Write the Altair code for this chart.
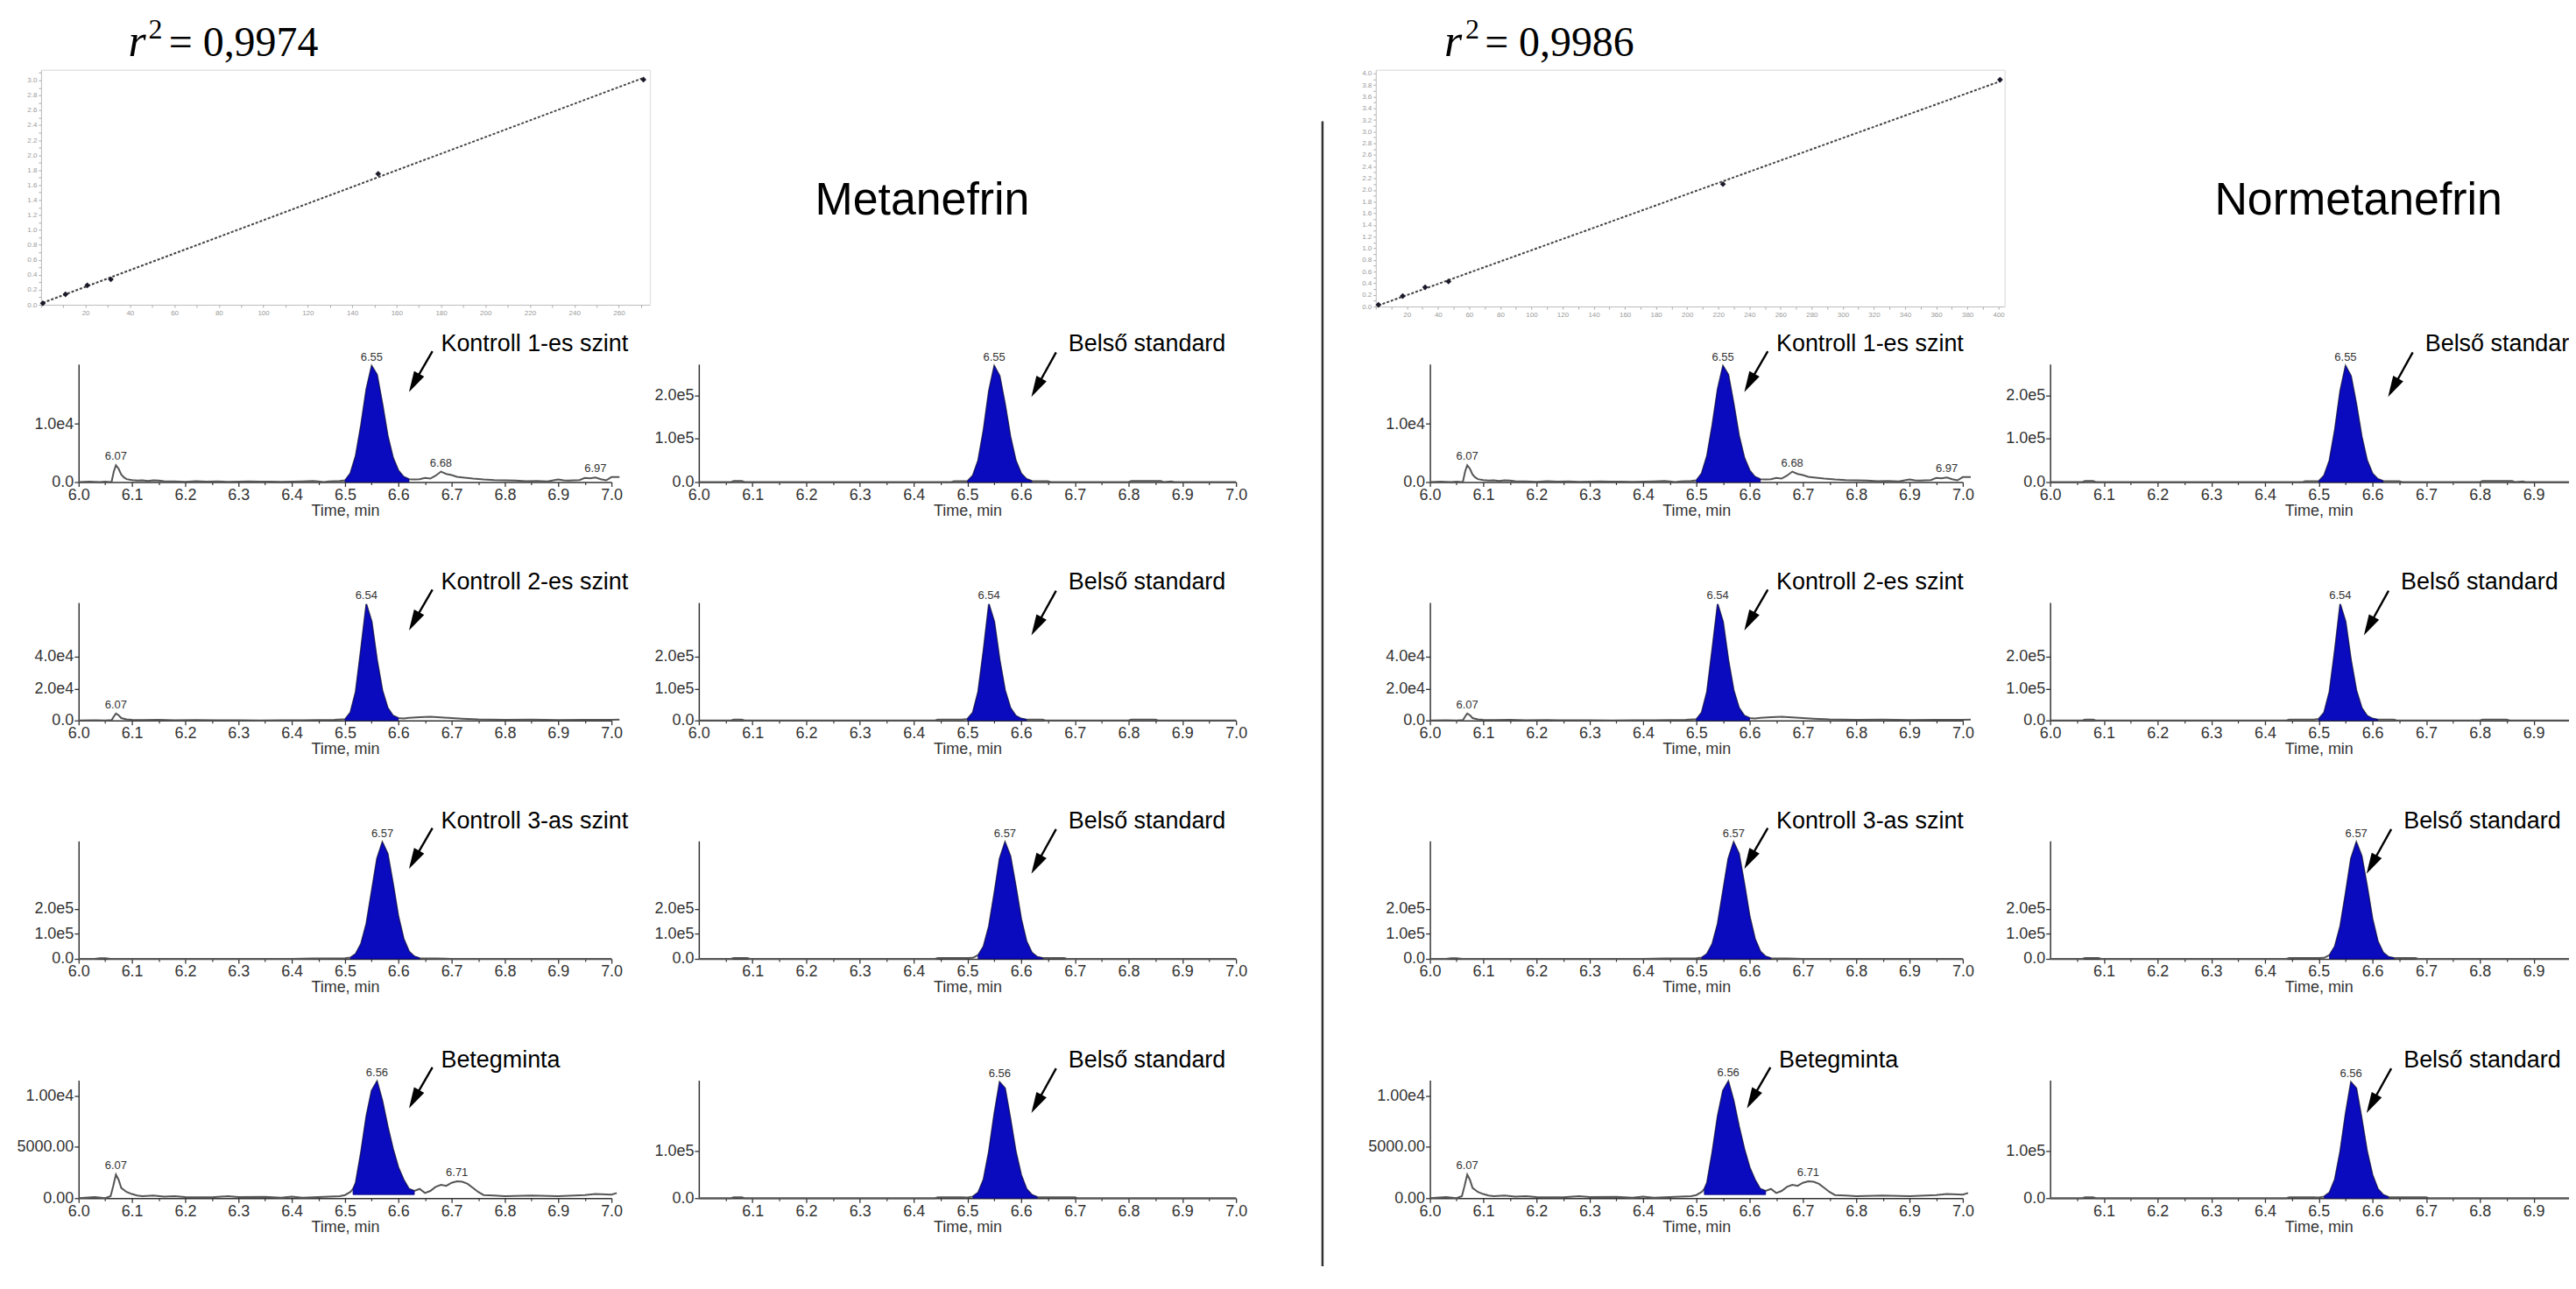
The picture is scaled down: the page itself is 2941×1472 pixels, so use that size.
import altair as alt
import pandas as pd

# ---------------- values ----------------
# calibration curves: concentration vs. area ratio
met_cal_conc = [0.8, 11.0, 20.8, 31.4, 151.7, 271.1]
met_cal_ratio = [0.02, 0.14, 0.26, 0.34, 1.75, 3.01]
nor_cal_conc = [1.7, 17.3, 31.7, 46.7, 223.0, 401.0]
nor_cal_ratio = [0.03, 0.18, 0.33, 0.43, 2.10, 3.89]
met_cal_xticks = list(range(0, 280, 10))
met_cal_yticks = [round(i * 0.1, 1) for i in range(0, 32)]
nor_cal_xticks = list(range(0, 410, 10))
nor_cal_yticks = [round(i * 0.1, 1) for i in range(0, 41)]
r2_texts = ["= 0,9974", "= 0,9986"]
titles = ["Metanefrin", "Normetanefrin"]

time_ticks = [6.0, 6.1, 6.2, 6.3, 6.4, 6.5, 6.6, 6.7, 6.8, 6.9, 7.0]
time_ticks_no0 = [6.1, 6.2, 6.3, 6.4, 6.5, 6.6, 6.7, 6.8, 6.9, 7.0]
time_minor = [6.05, 6.15, 6.25, 6.35, 6.45, 6.55, 6.65, 6.75, 6.85, 6.95]

# --- Kontroll 1-es szint ---
A1_t = [6.00, 6.02, 6.04, 6.05, 6.06, 6.062, 6.066, 6.07, 6.075, 6.08, 6.085, 6.09, 6.10, 6.11, 6.12,
        6.13, 6.14, 6.15, 6.16, 6.18, 6.20, 6.22, 6.24, 6.26, 6.28, 6.30, 6.32, 6.34, 6.36, 6.38,
        6.40, 6.42, 6.44, 6.45, 6.46, 6.47, 6.48, 6.49, 6.50, 6.51, 6.52, 6.53, 6.54, 6.55, 6.56,
        6.57, 6.58, 6.59, 6.60, 6.61, 6.62, 6.63, 6.64, 6.65, 6.66, 6.67, 6.68, 6.69, 6.70, 6.71,
        6.72, 6.74, 6.76, 6.78, 6.80, 6.82, 6.84, 6.86, 6.88, 6.90, 6.91, 6.92, 6.94, 6.95, 6.96,
        6.97, 6.98, 6.99, 7.00, 7.015]
A1_y = [0, 60, 0, 80, 0, 100, 1800, 2900, 2300, 1300, 800, 500, 350, 250, 300,
        200, 300, 250, 150, 100, 50, 150, 80, 100, 50, 80, 120, 60, 80, 50,
        60, 100, 180, 100, 0, 120, 150, 200, 300, 1500, 4500, 9800, 16000, 20000, 18500,
        13500, 8000, 4200, 2000, 900, 500, 450, 500, 700, 600, 1100, 1800, 1400, 1200, 900,
        800, 600, 450, 350, 300, 250, 150, 200, 100, 450, 300, 250, 350, 700, 650,
        800, 500, 300, 850, 850]
A1_fill = [6.50, 6.62]
A1_base = 0
A1_ymax = 20300
A1_yvals = [0, 10000]
A1_ylabs = ["0.0", "1.0e4"]
A1_pk_t = [6.07, 6.55, 6.68, 6.97]
A1_pk_y = [2900, 20000, 1800, 800]
A1_pk_lab = ["6.07", "6.55", "6.68", "6.97"]
A1_note = "Kontroll 1-es szint"

# --- Kontroll 2-es szint ---
A2_t = [6.00, 6.03, 6.05, 6.062, 6.066, 6.07, 6.075, 6.08, 6.09, 6.10, 6.12, 6.15, 6.18, 6.22, 6.26,
        6.30, 6.34, 6.38, 6.42, 6.45, 6.48, 6.50, 6.51, 6.52, 6.53, 6.54, 6.55, 6.56, 6.57, 6.58,
        6.59, 6.60, 6.61, 6.62, 6.64, 6.66, 6.68, 6.70, 6.72, 6.75, 6.80, 6.85, 6.90, 6.95, 7.00, 7.015]
A2_y = [0, 150, 0, 300, 2500, 4300, 3300, 1500, 700, 400, 250, 350, 150, 250, 100,
        150, 50, 150, 100, 250, 350, 800, 5000, 18000, 45000, 73000, 62000, 38000, 19000, 8000,
        3000, 1500, 1200, 1600, 2000, 2300, 1900, 1500, 1100, 700, 450, 550, 300, 450, 350, 500]
A2_fill = [6.50, 6.60]
A2_base = 0
A2_ymax = 74000
A2_yvals = [0, 20000, 40000]
A2_ylabs = ["0.0", "2.0e4", "4.0e4"]
A2_pk_t = [6.07, 6.54]
A2_pk_y = [4300, 73000]
A2_pk_lab = ["6.07", "6.54"]
A2_note = "Kontroll 2-es szint"

# --- Kontroll 3-as szint ---
A3_t = [6.00, 6.03, 6.04, 6.05, 6.06, 6.10, 6.20, 6.30, 6.40, 6.44, 6.46, 6.50, 6.51, 6.52, 6.53,
        6.54, 6.55, 6.56, 6.57, 6.58, 6.59, 6.60, 6.61, 6.62, 6.63, 6.64, 6.65, 6.67, 6.70, 6.80,
        6.90, 7.00]
A3_y = [0, 0, 2500, 2500, 0, 0, 0, 0, 0, 2000, 2000, 2500, 5000, 20000, 60000,
        140000, 270000, 400000, 465000, 420000, 300000, 170000, 80000, 30000, 10000, 3000, 1800, 1500, 0, 0,
        0, 0]
A3_fill = [6.51, 6.64]
A3_base = 0
A3_ymax = 470000
A3_yvals = [0, 100000, 200000]
A3_ylabs = ["0.0", "1.0e5", "2.0e5"]
A3_pk_t = [6.57]
A3_pk_y = [465000]
A3_pk_lab = ["6.57"]
A3_note = "Kontroll 3-as szint"

# --- Betegminta ---
A4_t = [6.00, 6.03, 6.05, 6.06, 6.065, 6.07, 6.075, 6.08, 6.09, 6.10, 6.11, 6.12, 6.14, 6.16, 6.18,
        6.20, 6.25, 6.28, 6.30, 6.35, 6.38, 6.40, 6.42, 6.45, 6.47, 6.49, 6.50, 6.51, 6.515, 6.52,
        6.53, 6.54, 6.55, 6.56, 6.57, 6.58, 6.59, 6.60, 6.61, 6.62, 6.63, 6.64, 6.65, 6.66, 6.67,
        6.68, 6.69, 6.70, 6.71, 6.72, 6.73, 6.74, 6.75, 6.76, 6.78, 6.80, 6.85, 6.90, 6.95, 6.97,
        7.00, 7.01]
A4_y = [0, 100, 0, 200, 1200, 2300, 1800, 1000, 600, 400, 250, 200, 250, 150, 200,
        100, 80, 200, 100, 120, 50, 150, 50, 100, 150, 200, 300, 600, 900, 1500,
        4500, 8000, 10500, 11400, 9500, 7000, 4800, 3000, 1800, 900, 700, 900, 500, 700, 1100,
        1300, 1200, 1500, 1650, 1600, 1400, 1000, 600, 300, 250, 200, 250, 200, 300, 400,
        350, 500]
A4_fill = [6.515, 6.63]
A4_base = 350
A4_ymax = 11500
A4_yvals = [0, 5000, 10000]
A4_ylabs = ["0.00", "5000.00", "1.00e4"]
A4_pk_t = [6.07, 6.56, 6.71]
A4_pk_y = [2300, 11400, 1650]
A4_pk_lab = ["6.07", "6.56", "6.71"]
A4_note = "Betegminta"

# --- Belső standard (internal standard) traces ---
B1_t = [6.00, 6.06, 6.065, 6.08, 6.085, 6.20, 6.40, 6.47, 6.475, 6.50, 6.51, 6.52, 6.53, 6.54, 6.55,
        6.56, 6.57, 6.58, 6.59, 6.60, 6.61, 6.62, 6.63, 6.65, 6.655, 6.80, 6.805, 6.86, 6.865, 6.88,
        6.885, 7.00]
B1_y = [0, 0, 2500, 2500, 0, 0, 0, 0, 2000, 2000, 15000, 50000, 120000, 210000, 268000,
        245000, 180000, 105000, 50000, 20000, 7000, 2500, 2000, 2000, 0, 0, 2500, 2500, 0, 1500,
        0, 0]
B1_fill = [6.50, 6.62]
B1_ymax = 272000
B1_yvals = [0, 100000, 200000]
B1_ylabs = ["0.0", "1.0e5", "2.0e5"]
B1_pk_t = [6.55]
B1_pk_y = [268000]
B1_pk_lab = ["6.55"]

B2_t = [6.00, 6.06, 6.065, 6.08, 6.085, 6.44, 6.445, 6.48, 6.49, 6.50, 6.51, 6.52, 6.53, 6.54, 6.55,
        6.56, 6.57, 6.58, 6.59, 6.60, 6.61, 6.62, 6.64, 6.645, 6.80, 6.805, 6.85, 6.855, 7.00]
B2_y = [0, 0, 3000, 3000, 0, 0, 3000, 3000, 2500, 5000, 25000, 90000, 220000, 365000, 310000,
        190000, 95000, 40000, 15000, 6000, 3000, 2500, 2500, 0, 0, 3000, 3000, 0, 0]
B2_fill = [6.50, 6.61]
B2_ymax = 370000
B2_yvals = [0, 100000, 200000]
B2_ylabs = ["0.0", "1.0e5", "2.0e5"]
B2_pk_t = [6.54]
B2_pk_y = [365000]
B2_pk_lab = ["6.54"]

B3_t = [6.00, 6.06, 6.065, 6.09, 6.095, 6.44, 6.445, 6.50, 6.51, 6.52, 6.53, 6.54, 6.55, 6.56, 6.57,
        6.58, 6.59, 6.60, 6.61, 6.62, 6.63, 6.64, 6.65, 6.68, 6.685, 7.00]
B3_y = [0, 0, 3500, 3500, 0, 0, 3500, 3500, 4000, 15000, 50000, 130000, 260000, 400000, 465000,
        410000, 290000, 160000, 70000, 25000, 8000, 3500, 3500, 3500, 0, 0]
B3_fill = [6.52, 6.64]
B3_ymax = 470000
B3_yvals = [0, 100000, 200000]
B3_ylabs = ["0.0", "1.0e5", "2.0e5"]
B3_pk_t = [6.57]
B3_pk_y = [465000]
B3_pk_lab = ["6.57"]

B4_t = [6.00, 6.06, 6.065, 6.08, 6.085, 6.44, 6.445, 6.49, 6.50, 6.51, 6.52, 6.53, 6.54, 6.55, 6.56,
        6.57, 6.58, 6.59, 6.60, 6.61, 6.62, 6.63, 6.64, 6.70, 6.705, 7.00]
B4_y = [0, 0, 2000, 2000, 0, 0, 2000, 2000, 1500, 3500, 12000, 40000, 100000, 180000, 248000,
        235000, 170000, 100000, 50000, 20000, 7000, 2500, 2000, 2000, 0, 0]
B4_fill = [6.51, 6.63]
B4_ymax = 252000
B4_yvals = [0, 100000]
B4_ylabs = ["0.0", "1.0e5"]
B4_pk_t = [6.56]
B4_pk_y = [248000]
B4_pk_lab = ["6.56"]
B_note = "Belső standard"

# ---------------- layout / style ----------------
W, H = 2933, 1440
OX, OY = 8, 8
PH = 135
COLS = {"A": (90, 700), "B": (800, 1415), "C": (1637, 2247), "D": (2347, 2962)}
BASES = [550, 823, 1096, 1370]
NOTE_POS = {
    "A": dict(label=(6.68, 1.11), start=(6.664, 1.11), head=(6.6295, 0.84)),
    "B": dict(label=(6.688, 1.11), start=(6.665, 1.10), head=(6.6285, 0.80)),
}
C_shift = [-0.03, -0.03, -0.03, -0.025]
D_shift = [0.01, -0.035, -0.03, -0.03]
LBL_FONT = "'Liberation Sans', Arial, sans-serif"
SERIF = "'Liberation Serif', 'DejaVu Serif', serif"
BLUE = "#0A0ABE"
ARROW = "M0,-1L0.55,1L-0.55,1Z"

AX = dict(labelFont=LBL_FONT, labelFontSize=18, labelColor="#333", tickColor="#333",
          domainColor="#333", domainWidth=1.5, tickWidth=1.3, tickSize=5, grid=False,
          labelFlush=False, labelOverlap=False, labelPadding=1)
CAX = dict(labelFont="Liberation Sans", labelFontSize=8, labelColor="#999", tickColor="#aaa",
           domainColor="#bbb", domainWidth=1, tickSize=3, grid=False, labelFlush=False,
           labelOverlap=False, labelPadding=2, title=None)


def yexpr(vals, labs):
    parts = [f"datum.value == {v} ? '{l}'" for v, l in zip(vals, labs)]
    return " : ".join(parts) + " : ''"


def chrom_panel(tt, yy, fill, base_val, ymax, yvals, ylabs, pk_t, pk_y, pk_lab, note,
                col, row, xvals, kind, shift=0.0):
    assert len(tt) == len(yy)
    x0, x1 = COLS[col]
    base = BASES[row]
    xsc = alt.Scale(domain=[6.0, 7.0], range=[x0 - OX, x1 - OX], nice=False, zero=False)
    ysc = alt.Scale(domain=[0, ymax], range=[base - OY, base - OY - PH], nice=False, zero=False)
    rsc = alt.Scale(domain=[0, 1], range=[base - OY, base - OY - PH], nice=False, zero=False)
    df = pd.DataFrame({"t": tt, "y": yy})
    xaxis = alt.Axis(orient="bottom", offset=(base - OY) - H, values=xvals, format=".1f",
                     title="Time, min", titleFont=LBL_FONT, titleFontSize=18,
                     titleFontWeight="normal", titleColor="#333", titlePadding=0, **AX)
    yaxis = alt.Axis(orient="left", offset=-(x0 - OX), values=yvals,
                     labelExpr=yexpr(yvals, ylabs), title=None, **AX)
    minor = alt.Axis(orient="bottom", offset=(base - OY) - H,
                     values=[v for v in time_minor if v < xvals[-1]],
                     labels=False, domain=False, tickSize=3, tickColor="#333", tickWidth=1.2,
                     grid=False, title=None)
    layers = []
    layers.append(alt.Chart(df).mark_line(color="#555", strokeWidth=2).encode(
        x=alt.X("t:Q", scale=xsc, axis=xaxis), y=alt.Y("y:Q", scale=ysc, axis=yaxis)))
    layers.append(alt.Chart(df).transform_filter(
        alt.FieldRangePredicate(field="t", range=fill)).mark_area(
        color=BLUE, stroke="#06067A", strokeWidth=0.8).encode(
        x=alt.X("t:Q", scale=xsc, axis=None), y=alt.Y("y:Q", scale=ysc, axis=None),
        y2=alt.datum(base_val)))
    pk = pd.DataFrame({"t": pk_t, "y": pk_y, "lab": pk_lab})
    layers.append(alt.Chart(pk).mark_text(baseline="bottom", dy=-3, font=LBL_FONT,
                                          fontSize=13, color="#333").encode(
        x=alt.X("t:Q", scale=xsc, axis=minor), y=alt.Y("y:Q", scale=ysc, axis=None),
        text="lab:N"))
    pos = NOTE_POS[kind]
    nt = pd.DataFrame({"t": [pos["label"][0] + shift], "r": [pos["label"][1]], "txt": [note]})
    layers.append(alt.Chart(nt).mark_text(align="left", baseline="alphabetic", font=LBL_FONT,
                                          fontSize=27, color="black").encode(
        x=alt.X("t:Q", scale=xsc, axis=None), y=alt.Y("r:Q", scale=rsc, axis=None),
        text="txt:N"))
    ar = pd.DataFrame({"t0": [pos["start"][0] + shift], "r0": [pos["start"][1]],
                       "t1": [pos["head"][0] + shift], "r1": [pos["head"][1]]})
    layers.append(alt.Chart(ar).mark_rule(color="black", strokeWidth=2.4).encode(
        x=alt.X("t0:Q", scale=xsc, axis=None), y=alt.Y("r0:Q", scale=rsc, axis=None),
        x2="t1:Q", y2="r1:Q"))
    layers.append(alt.Chart(ar).mark_point(shape=ARROW, filled=True, size=576, angle=209,
                                           color="black", opacity=1).encode(
        x=alt.X("t1:Q", scale=xsc, axis=None), y=alt.Y("r1:Q", scale=rsc, axis=None)))
    return layers, xsc, rsc


def calib_panel(conc, ratio, xmax, ymax, x0, x1, ybot, ytop, xticks, yticks, r2txt,
                rpos, sup_pos, eq_pos):
    xsc = alt.Scale(domain=[0, xmax], range=[x0 - OX, x1 - OX], nice=False, zero=False)
    ysc = alt.Scale(domain=[0, ymax], range=[ybot - OY, ytop - OY], nice=False, zero=False)
    df = pd.DataFrame({"conc": conc, "ratio": ratio})
    xaxis = alt.Axis(orient="bottom", offset=(ybot - OY) - H, values=xticks,
                     labelExpr="datum.value > 0 && datum.value % 20 == 0 ? datum.value : ''", **CAX)
    yaxis = alt.Axis(orient="left", offset=-(x0 - OX), values=yticks,
                     labelExpr="round(datum.value * 10) % 2 == 0 ? format(datum.value, '.1f') : ''",
                     **CAX)
    topax = alt.Axis(orient="top", offset=-(ytop - OY), ticks=False, labels=False, grid=False,
                     domainColor="#e4e4e4", domainWidth=1.5, title=None)
    rightax = alt.Axis(orient="right", offset=(x1 - OX) - W, ticks=False, labels=False, grid=False,
                       domainColor="#e4e4e4", domainWidth=1.5, title=None)
    layers = []
    layers.append(alt.Chart(df).transform_regression("conc", "ratio").mark_line(
        strokeDash=[3, 2], strokeWidth=2, color="#444").encode(
        x=alt.X("conc:Q", scale=xsc, axis=topax), y=alt.Y("ratio:Q", scale=ysc, axis=rightax)))
    layers.append(alt.Chart(df).mark_point(shape="diamond", filled=True, size=45,
                                           color="#1a1a2a", opacity=1).encode(
        x=alt.X("conc:Q", scale=xsc, axis=xaxis), y=alt.Y("ratio:Q", scale=ysc, axis=yaxis)))
    pieces = [("r", rpos, 52, "italic"), ("2", sup_pos, 32, "normal"), (r2txt, eq_pos, 48, "normal")]
    for txt, (px, py), fs, style in pieces:
        d = pd.DataFrame({"x": [px], "y": [py], "txt": [txt]})
        layers.append(alt.Chart(d).mark_text(align="left", baseline="alphabetic", font=SERIF,
                                             fontSize=fs, fontStyle=style, color="black").encode(
            x=alt.X("x:Q", scale=xsc, axis=None), y=alt.Y("y:Q", scale=ysc, axis=None),
            text="txt:N"))
    return layers


A_sets = [
    (A1_t, A1_y, A1_fill, A1_base, A1_ymax, A1_yvals, A1_ylabs, A1_pk_t, A1_pk_y, A1_pk_lab, A1_note),
    (A2_t, A2_y, A2_fill, A2_base, A2_ymax, A2_yvals, A2_ylabs, A2_pk_t, A2_pk_y, A2_pk_lab, A2_note),
    (A3_t, A3_y, A3_fill, A3_base, A3_ymax, A3_yvals, A3_ylabs, A3_pk_t, A3_pk_y, A3_pk_lab, A3_note),
    (A4_t, A4_y, A4_fill, A4_base, A4_ymax, A4_yvals, A4_ylabs, A4_pk_t, A4_pk_y, A4_pk_lab, A4_note),
]
B_sets = [
    (B1_t, B1_y, B1_fill, 0, B1_ymax, B1_yvals, B1_ylabs, B1_pk_t, B1_pk_y, B1_pk_lab, B_note),
    (B2_t, B2_y, B2_fill, 0, B2_ymax, B2_yvals, B2_ylabs, B2_pk_t, B2_pk_y, B2_pk_lab, B_note),
    (B3_t, B3_y, B3_fill, 0, B3_ymax, B3_yvals, B3_ylabs, B3_pk_t, B3_pk_y, B3_pk_lab, B_note),
    (B4_t, B4_y, B4_fill, 0, B4_ymax, B4_yvals, B4_ylabs, B4_pk_t, B4_pk_y, B4_pk_lab, B_note),
]
B_xticks = [time_ticks, time_ticks, time_ticks_no0, time_ticks_no0]

all_layers = []
all_layers += calib_panel(met_cal_conc, met_cal_ratio, 274, 3.14, 47, 744, 347, 78,
                          met_cal_xticks, met_cal_yticks, r2_texts[0],
                          (39.3, 3.326), (48.3, 3.56), (57.5, 3.326))
all_layers += calib_panel(nor_cal_conc, nor_cal_ratio, 404, 4.06, 1575, 2295, 349, 78,
                          nor_cal_xticks, nor_cal_yticks, r2_texts[1],
                          (44.0, 4.296), (57.5, 4.596), (70.0, 4.296))

title_scales = {}
for row in range(4):
    for col in ("A", "C"):
        sh = C_shift[row] if col == "C" else 0.0
        lay, _, _ = chrom_panel(*A_sets[row], col=col, row=row, xvals=time_ticks, kind="A",
                                shift=sh)
        all_layers += lay
    for col in ("B", "D"):
        sh = D_shift[row] if col == "D" else 0.0
        xv = B_xticks[row] if col == "B" else [v for v in B_xticks[row] if v < 6.95]
        lay, xsc, rsc = chrom_panel(*B_sets[row], col=col, row=row, xvals=xv,
                                    kind="B", shift=sh)
        all_layers += lay
        if row == 0:
            title_scales[col] = (xsc, rsc)

# compound titles placed in the coordinate frame of the first internal-standard panels
for col, txt, tpos in (("B", titles[0], 6.416), ("D", titles[1], 6.574)):
    xsc, rsc = title_scales[col]
    d = pd.DataFrame({"t": [tpos], "r": [2.267], "txt": [txt]})
    all_layers.append(alt.Chart(d).mark_text(align="center", baseline="alphabetic",
                                             font=LBL_FONT, fontSize=52, color="black").encode(
        x=alt.X("t:Q", scale=xsc, axis=None), y=alt.Y("r:Q", scale=rsc, axis=None),
        text="txt:N"))

# vertical separator between the two compounds
all_layers.append(alt.Chart(pd.DataFrame({"d": [0]})).mark_rule(
    color="#333", strokeWidth=2.5).encode(
    x=alt.value(1514 - OX), y=alt.value(137 - OY), y2=alt.value(H)))

chart = alt.layer(*all_layers).resolve_scale(
    x="independent", y="independent"
).properties(
    width=W, height=H, autosize=alt.AutoSizeParams(type="none"), padding=0,
    background="white"
).configure_view(strokeWidth=0)

chart.save("out.html", embed_options={"renderer": "svg", "actions": False})
